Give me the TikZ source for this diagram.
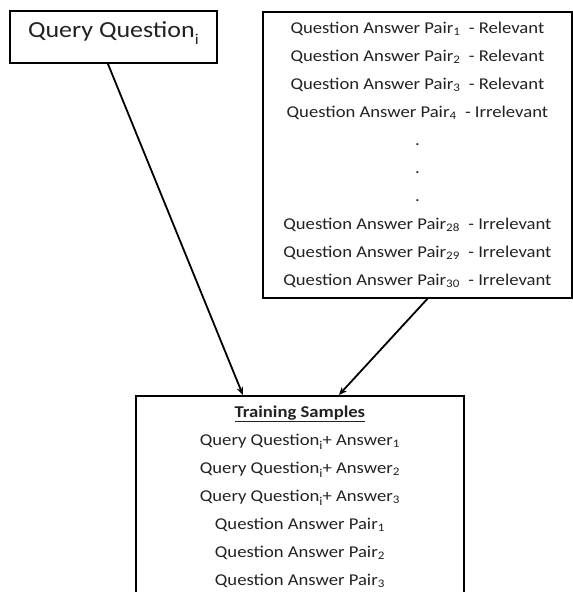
\documentclass[tikz,border=0pt]{standalone}
\usepackage{fontspec}
\setmainfont[FakeStretch=1.13]{Carlito}
\usetikzlibrary{arrows.meta}
\definecolor{txt}{HTML}{222222}
\newcommand{\lowi}[2]{\raisebox{#1}{\fontsize{#2}{#2}\selectfont i}}
\begin{document}
\begin{tikzpicture}[x=1pt,y=-1pt,
  box/.style={draw=black, line width=1.8pt, inner sep=0pt, align=center, text=txt},
  conn/.style={line width=1.8pt, -{Stealth[length=8pt,width=6.5pt]}}]
\useasboundingbox (0,0) rectangle (573,592);
\clip (0,0) rectangle (573,592);
\fill[white] (0,0) rectangle (573,592);
\node[box, anchor=north west, minimum width=207, minimum height=52,
      text height=16pt, text depth=14pt,
      font=\fontsize{23}{26}\selectfont] (q) at (9,10) {Query Question\lowi{-7pt}{15}};
\node[box, anchor=north west, minimum width=309, minimum height=286,
      font=\fontsize{16.5}{28}\selectfont] (r) at (262,11)
  {Question Answer Pair\textsubscript{1} \ - Relevant\\
   Question Answer Pair\textsubscript{2} \ - Relevant\\
   Question Answer Pair\textsubscript{3} \ - Relevant\\
   Question Answer Pair\textsubscript{4} \ - Irrelevant\\
   .\\ .\\ .\\
   Question Answer Pair\textsubscript{28} \ - Irrelevant\\
   Question Answer Pair\textsubscript{29} \ - Irrelevant\\
   Question Answer Pair\textsubscript{30} \ - Irrelevant};
\node[box, anchor=north west, minimum width=328, minimum height=202,
      font=\fontsize{16.5}{28}\selectfont] (t) at (135,395)
  {\textbf{\underline{Training Samples}}\\
   Query Question\lowi{-4.5pt}{12}+ Answer\textsubscript{1}\\
   Query Question\lowi{-4.5pt}{12}+ Answer\textsubscript{2}\\
   Query Question\lowi{-4.5pt}{12}+ Answer\textsubscript{3}\\
   Question Answer Pair\textsubscript{1}\\
   Question Answer Pair\textsubscript{2}\\
   Question Answer Pair\textsubscript{3}};
\draw[conn] ([xshift=-5.5pt]q.south) -- ([xshift=-57pt]t.north);
\draw[conn] ([xshift=10pt]r.south) -- ([xshift=39pt]t.north);
\end{tikzpicture}
\end{document}
